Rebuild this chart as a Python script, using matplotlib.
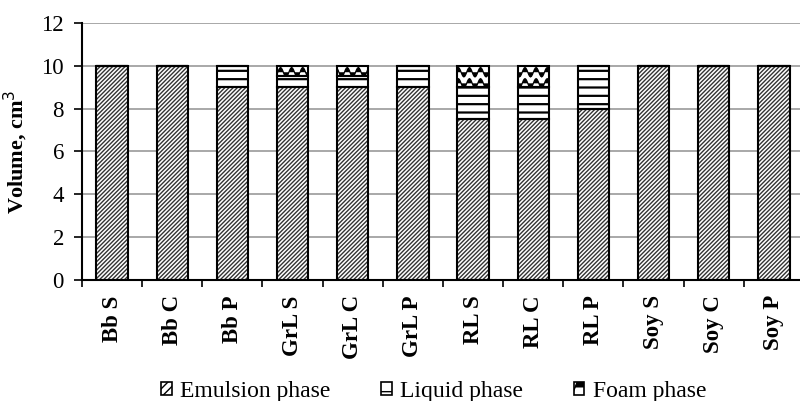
import warnings
import matplotlib
matplotlib.use("Agg")
import matplotlib.pyplot as plt
import numpy as np
from matplotlib import hatch as mhatch
from matplotlib.path import Path
from matplotlib.patches import Patch

warnings.filterwarnings("ignore")

categories = ["Bb S", "Bb C", "Bb P", "GrL S", "GrL C", "GrL P",
              "RL S", "RL C", "RL P", "Soy S", "Soy C", "Soy P"]
emulsion = [10, 10, 9, 9, 9, 9, 7.5, 7.5, 8, 10, 10, 10]
liquid = [0, 0, 1, 0.5, 0.5, 1, 1.5, 1.5, 2, 0, 0, 0]
foam = [0, 0, 0, 0.5, 0.5, 0, 1, 1, 0, 0, 0, 0]
series_names = ["Emulsion phase", "Liquid phase", "Foam phase"]
hatches = ["////////", "--", "~~"]
hatch_cols = ["#333333", "#000000", "#000000"]
hatch_lws = [1.0, 1.6, 0.9]


class WaveHatch(mhatch.HatchPatternBase):
    """Wavy rows, used for the foam phase ('~')."""

    def __init__(self, hatch, density):
        self.num_lines = int(hatch.count("~") * density * 0.8)
        self.npts = 12 * self.num_lines + 1
        self.num_vertices = self.num_lines * self.npts

    def set_vertices_and_codes(self, vertices, codes):
        n = self.num_lines
        t = np.linspace(0, 1, self.npts)
        for i in range(n):
            seg = slice(i * self.npts, (i + 1) * self.npts)
            vertices[seg, 0] = t
            vertices[seg, 1] = (i + 0.5) / n + 0.42 / n * np.sin(2 * np.pi * n * t)
            codes[seg] = Path.LINETO
            codes[i * self.npts] = Path.MOVETO


mhatch._hatch_types.append(WaveHatch)

plt.rcParams["font.family"] = ["Liberation Serif", "DejaVu Serif"]

fig = plt.figure(figsize=(8, 4.01), dpi=100)
ax = fig.add_axes([0.1025, 0.302, 0.9025, 0.641])

x = np.arange(len(categories))
w = 0.52
bottom = np.zeros(len(categories))
for vals, h, hc, hlw in zip([emulsion, liquid, foam], hatches, hatch_cols, hatch_lws):
    vals = np.array(vals, dtype=float)
    # hatch layer, then black outline on top
    with plt.rc_context({"hatch.linewidth": hlw}):
        ax.bar(x, vals, w, bottom=bottom, color="white", edgecolor=hc,
               hatch=h, linewidth=0, zorder=2)
    ax.bar(x, vals, w, bottom=bottom, fill=False, edgecolor="black",
           linewidth=1.5, zorder=3)
    bottom += vals

ax.set_xlim(-0.5, len(categories) - 0.5)
ax.set_ylim(0, 12)
ax.set_yticks(range(0, 13, 2))
ax.yaxis.grid(True, color="#999999", linewidth=1.2, zorder=0)
ax.set_axisbelow(True)

ax.set_xticks(x)
ax.set_xticklabels(categories, rotation=90, fontweight="bold", fontsize=16.5)
ax.set_xticks(np.arange(-0.5, len(categories), 1), minor=True)
ax.tick_params(axis="x", which="major", length=0, pad=11)
ax.tick_params(axis="x", which="minor", length=5, width=1.2, direction="out")
ax.tick_params(axis="y", labelsize=16.5, length=6, width=1.2, direction="out", pad=7)

for s in ["top", "right"]:
    ax.spines[s].set_visible(False)
ax.spines["left"].set_linewidth(1.5)
ax.spines["bottom"].set_linewidth(1.5)

ax.set_ylabel("Volume, cm$^3$", fontweight="bold", fontsize=16, labelpad=8)

legend_hatches = ["////", "-", "~"]
handles = [Patch(facecolor="white", edgecolor="black", hatch=h, linewidth=1.2)
           for h in legend_hatches]
fig.legend(handles, series_names, loc="center", bbox_to_anchor=(0.542, 0.024),
           ncol=3, frameon=False, fontsize=17, handlelength=0.45,
           handleheight=0.45, handletextpad=0.35, columnspacing=2.15,
           borderpad=0)

fig.savefig("out.png", dpi=100)
